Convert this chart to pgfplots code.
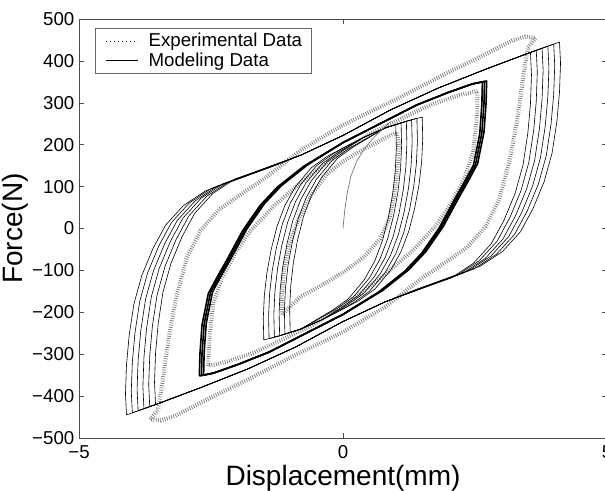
\documentclass[border=0pt]{standalone}
\usepackage{fontspec}
\setmainfont{Liberation Sans}
\usepackage{pgfplots}
\pgfplotsset{compat=1.18}

\pgfplotsset{
  model/.style={black, line width=0.45pt, line join=round, forget plot},
  expband/.style={black!55, line width=3pt, dash pattern=on 0.5pt off 1.2pt, forget plot},
}

\begin{document}
\begin{tikzpicture}
\useasboundingbox (-59.25pt,-39.75pt) rectangle (394.5pt,328.5pt);
\clip (-59.25pt,-39.75pt) rectangle (394.5pt,328.5pt);
\begin{axis}[
    at={(0pt,0pt)}, anchor=south west,
    scale only axis, width=396pt, height=314.25pt,
    xmin=-5, xmax=5, ymin=-500, ymax=500,
    xtick={-5,0,5}, xticklabels={−5,0,5},
    ytick={-500,-400,...,500},
    yticklabels={−500,−400,−300,−200,−100,0,100,200,300,400,500},
    tick align=inside, tick pos=both,
    major tick length=4pt,
    ticklabel style={font=\fontsize{14}{16}\selectfont},
    xticklabel style={yshift=-2pt},
    xlabel={Displacement(mm)}, ylabel={Force(N)},
    label style={font=\fontsize{21}{24}\selectfont},
    xlabel style={yshift=2pt},
    ylabel style={at={(axis description cs:0,0.5)}, anchor=center, yshift=48pt},
    axis line style={black!70}, every tick/.style={black!70},
    legend style={at={(0,1)}, anchor=north west, xshift=12pt, yshift=-7pt,
        font=\fontsize{14}{15}\selectfont, draw=black!60, inner xsep=4.5pt, inner ysep=1.5pt,
        row sep=-1pt, cells={anchor=west}},
    legend image code/.code={\draw[#1] (3pt,0pt) -- (27pt,0pt); \path (0pt,0pt) (33pt,0pt);},
]
\addlegendimage{black, dash pattern=on 0.8pt off 2.2pt}
\addlegendimage{black, line width=0.5pt}

% experimental data (dotted bands)
\addplot[expband] coordinates {
 (-3.65,-455) (-3.50,-432) (-3.40,-350) (-3.30,-260) (-3.16,-165) (-2.96,-70) (-2.70,-5) (-2.35,45) (-1.95,80) (-1.50,118) (-0.80,187) (0,247) (0.90,302) (1.80,360) (2.60,410) (3.20,448) (3.45,458) (3.65,455)
 (3.50,432) (3.40,350) (3.30,260) (3.16,165) (2.96,70) (2.70,5) (2.35,-45) (1.95,-80) (1.50,-118) (0.80,-187) (0,-247) (-0.90,-302) (-1.80,-360) (-2.60,-410) (-3.20,-448) (-3.45,-458) (-3.65,-455)
};
\addplot[expband] coordinates {
 (-2.55,-328) (-2.53,-260) (-2.46,-180) (-2.30,-120) (-2.05,-60) (-1.75,-5) (-1.30,55) (-0.70,120) (0,185) (0.60,232) (1.20,268) (1.70,297) (2.20,318) (2.55,328)
 (2.53,260) (2.46,180) (2.30,120) (2.05,60) (1.75,5) (1.30,-55) (0.70,-120) (0,-185) (-0.60,-232) (-1.20,-268) (-1.70,-297) (-2.20,-318) (-2.55,-328)
};
\addplot[expband] coordinates {
 (-1.15,-205) (-1.16,-160) (-1.12,-100) (-1.02,-40) (-0.85,20) (-0.60,80) (-0.30,130) (0,160) (0.30,183) (0.60,203) (0.85,220) (1.02,230)
 (1.06,200) (1.03,140) (0.97,80) (0.88,25) (0.70,-25) (0.40,-68) (0,-105) (-0.40,-135) (-0.80,-162) (-1.15,-205)
};

% modeling data, large loops
\addplot[model] coordinates {
 (-4.10,-445) (-4.12,-395) (-4.10,-325) (-4.05,-255) (-3.96,-180) (-3.81,-112) (-3.60,-48) (-3.36,8) (-3.02,55) (-2.60,90) (-2.05,115) (-1.40,145) (-0.80,175) (0,222) (0.90,283) (1.80,335) (2.70,380) (3.50,418) (4.10,445)
 (4.12,395) (4.10,325) (4.05,255) (3.96,180) (3.81,112) (3.60,48) (3.36,-8) (3.02,-55) (2.60,-90) (2.05,-115) (1.40,-145) (0.80,-175) (0,-222) (-0.90,-283) (-1.80,-335) (-2.70,-380) (-3.50,-418) (-4.10,-445)
};
\addplot[model] coordinates {
 (-3.99,-440) (-4.01,-389) (-3.99,-319) (-3.94,-249) (-3.85,-174) (-3.70,-106) (-3.49,-42) (-3.25,14) (-2.91,61) (-2.49,96) (-1.94,121) (-1.40,145) (-0.80,175) (0,222) (0.90,283) (1.80,335) (2.70,380) (3.50,418) (3.99,440)
 (4.01,389) (3.99,319) (3.94,249) (3.85,174) (3.70,106) (3.49,42) (3.25,-14) (2.91,-61) (2.49,-96) (1.94,-121) (1.40,-145) (0.80,-175) (0,-222) (-0.90,-283) (-1.80,-335) (-2.70,-380) (-3.50,-418) (-3.99,-440)
};
\addplot[model] coordinates {
 (-3.88,-435) (-3.90,-384) (-3.88,-314) (-3.83,-244) (-3.74,-169) (-3.59,-101) (-3.38,-37) (-3.14,19) (-2.80,66) (-2.38,101) (-1.83,126) (-0.80,175) (0,222) (0.90,283) (1.80,335) (2.70,380) (3.50,418) (3.88,435)
 (3.90,384) (3.88,314) (3.83,244) (3.74,169) (3.59,101) (3.38,37) (3.14,-19) (2.80,-66) (2.38,-101) (1.83,-126) (0.80,-175) (0,-222) (-0.90,-283) (-1.80,-335) (-2.70,-380) (-3.50,-418) (-3.88,-435)
};
\addplot[model] coordinates {
 (-3.77,-430) (-3.79,-378) (-3.77,-308) (-3.72,-238) (-3.63,-163) (-3.48,-95) (-3.27,-31) (-3.03,25) (-2.69,72) (-2.27,107) (-1.72,132) (-0.80,175) (0,222) (0.90,283) (1.80,335) (2.70,380) (3.50,418) (3.77,430)
 (3.79,378) (3.77,308) (3.72,238) (3.63,163) (3.48,95) (3.27,31) (3.03,-25) (2.69,-72) (2.27,-107) (1.72,-132) (0.80,-175) (0,-222) (-0.90,-283) (-1.80,-335) (-2.70,-380) (-3.50,-418) (-3.77,-430)
};
\addplot[model] coordinates {
 (-3.66,-425) (-3.68,-373) (-3.66,-303) (-3.61,-233) (-3.52,-158) (-3.37,-90) (-3.16,-26) (-2.92,30) (-2.58,77) (-2.16,112) (-1.61,137) (-0.80,175) (0,222) (0.90,283) (1.80,335) (2.70,380) (3.50,418) (3.66,425)
 (3.68,373) (3.66,303) (3.61,233) (3.52,158) (3.37,90) (3.16,26) (2.92,-30) (2.58,-77) (2.16,-112) (1.61,-137) (0.80,-175) (0,-222) (-0.90,-283) (-1.80,-335) (-2.70,-380) (-3.50,-418) (-3.66,-425)
};
\addplot[model] coordinates {
 (-3.55,-420) (-3.57,-367) (-3.55,-297) (-3.50,-227) (-3.41,-152) (-3.26,-84) (-3.05,-20) (-2.81,36) (-2.47,83) (-2.05,118) (-1.50,143) (-0.80,175) (0,222) (0.90,283) (1.80,335) (2.70,380) (3.55,420)
 (3.57,367) (3.55,297) (3.50,227) (3.41,152) (3.26,84) (3.05,20) (2.81,-36) (2.47,-83) (2.05,-118) (1.50,-143) (0.80,-175) (0,-222) (-0.90,-283) (-1.80,-335) (-2.70,-380) (-3.55,-420)
};

% modeling data, medium loops
\addplot[model, line width=1.2pt] coordinates {
 (-2.72,-352) (-2.71,-300) (-2.67,-230) (-2.55,-155) (-2.38,-115) (-2.20,-75) (-1.90,-5) (-1.57,55) (-1.25,98) (-0.75,148) (0,205) (0.70,250) (1.40,295) (2.00,325) (2.45,345) (2.72,352)
 (2.71,300) (2.67,230) (2.55,155) (2.38,115) (2.20,75) (1.90,5) (1.57,-55) (1.25,-98) (0.75,-148) (0,-205) (-0.70,-250) (-1.40,-295) (-2.00,-325) (-2.45,-345) (-2.72,-352)
};
\addplot[model, line width=1.2pt] coordinates {
 (-2.68,-351) (-2.67,-298) (-2.63,-228) (-2.51,-153) (-2.34,-113) (-2.16,-73) (-1.86,-3) (-1.53,57) (-1.21,100) (-0.71,150) (0,205) (0.70,250) (1.40,295) (2.00,325) (2.45,345) (2.68,351)
 (2.67,298) (2.63,228) (2.51,153) (2.34,113) (2.16,73) (1.86,3) (1.53,-57) (1.21,-100) (0.71,-150) (0,-205) (-0.70,-250) (-1.40,-295) (-2.00,-325) (-2.45,-345) (-2.68,-351)
};
\addplot[model, line width=1.2pt] coordinates {
 (-2.64,-350) (-2.63,-296) (-2.59,-226) (-2.47,-151) (-2.30,-111) (-2.12,-71) (-1.82,-1) (-1.49,59) (-1.17,102) (-0.67,152) (0,205) (0.70,250) (1.40,295) (2.00,325) (2.45,345) (2.64,350)
 (2.63,296) (2.59,226) (2.47,151) (2.30,111) (2.12,71) (1.82,1) (1.49,-59) (1.17,-102) (0.67,-152) (0,-205) (-0.70,-250) (-1.40,-295) (-2.00,-325) (-2.45,-345) (-2.64,-350)
};

% modeling data, small loops
\addplot[model] coordinates {
 (-1.50,-266) (-1.51,-215) (-1.49,-160) (-1.44,-105) (-1.36,-50) (-1.25,5) (-1.10,55) (-0.90,100) (-0.60,145) (-0.30,172) (0,192) (0.40,218) (0.80,240) (1.20,256) (1.50,266)
 (1.51,215) (1.49,160) (1.44,105) (1.36,50) (1.25,-5) (1.10,-55) (0.90,-100) (0.60,-145) (0.30,-172) (0,-192) (-0.40,-218) (-0.80,-240) (-1.20,-256) (-1.50,-266)
};
\addplot[model] coordinates {
 (-1.40,-263) (-1.41,-210) (-1.39,-155) (-1.34,-100) (-1.26,-45) (-1.15,10) (-1.00,60) (-0.80,105) (-0.50,150) (-0.20,177) (0,192) (0.40,218) (0.80,240) (1.20,256) (1.40,263)
 (1.41,210) (1.39,155) (1.34,100) (1.26,45) (1.15,-10) (1.00,-60) (0.80,-105) (0.50,-150) (0.20,-177) (0,-192) (-0.40,-218) (-0.80,-240) (-1.20,-256) (-1.40,-263)
};
\addplot[model] coordinates {
 (-1.30,-259) (-1.31,-206) (-1.29,-151) (-1.24,-96) (-1.16,-41) (-1.05,14) (-0.90,64) (-0.70,109) (-0.40,154) (-0.10,181) (0.40,218) (0.80,240) (1.20,256) (1.30,259)
 (1.31,206) (1.29,151) (1.24,96) (1.16,41) (1.05,-14) (0.90,-64) (0.70,-109) (0.40,-154) (0.10,-181) (-0.40,-218) (-0.80,-240) (-1.20,-256) (-1.30,-259)
};
\addplot[model] coordinates {
 (-1.20,-256) (-1.21,-201) (-1.19,-146) (-1.14,-91) (-1.06,-36) (-0.95,19) (-0.80,69) (-0.60,114) (-0.30,159) (0,186) (0.40,218) (0.80,240) (1.20,256)
 (1.21,201) (1.19,146) (1.14,91) (1.06,36) (0.95,-19) (0.80,-69) (0.60,-114) (0.30,-159) (0,-186) (-0.40,-218) (-0.80,-240) (-1.20,-256)
};
\addplot[model] coordinates {
 (-1.10,-252) (-1.11,-197) (-1.09,-142) (-1.04,-87) (-0.96,-32) (-0.85,23) (-0.70,73) (-0.50,118) (-0.20,163) (0.10,190) (0.80,240) (1.10,252)
 (1.11,197) (1.09,142) (1.04,87) (0.96,32) (0.85,-23) (0.70,-73) (0.50,-118) (0.20,-163) (-0.10,-190) (-0.80,-240) (-1.10,-252)
};
\addplot[model] coordinates {
 (-1.00,-248) (-1.01,-192) (-0.99,-137) (-0.94,-82) (-0.86,-27) (-0.75,28) (-0.60,78) (-0.40,123) (-0.10,168) (0.20,195) (0.80,240) (1.00,248)
 (1.01,192) (0.99,137) (0.94,82) (0.86,27) (0.75,-28) (0.60,-78) (0.40,-123) (0.10,-168) (-0.20,-195) (-0.80,-240) (-1.00,-248)
};

% initial loading curve
\addplot[black!55, line width=0.5pt, forget plot] coordinates {
 (0,0) (0.03,40) (0.08,85) (0.15,125) (0.26,160) (0.40,190) (0.57,215) (0.75,238) (0.90,255)
};

\legend{Experimental Data, Modeling Data}
\end{axis}
\end{tikzpicture}
\end{document}
